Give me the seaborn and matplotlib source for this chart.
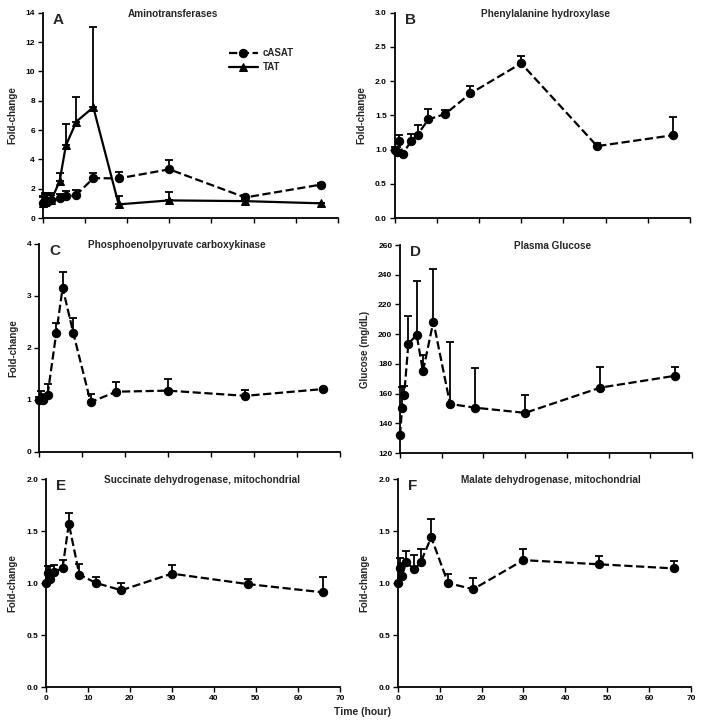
import numpy as np
import pandas as pd
import matplotlib
matplotlib.use("Agg")
import matplotlib.pyplot as plt
import seaborn as sns
from matplotlib.ticker import FormatStrFormatter

# ---- data ----
time_h = [0, 0.5, 1, 2, 4, 5.5, 8, 12, 18, 30, 48, 66]

casat = [1.0, 1.2, 1.1, 1.2, 1.33, 1.47, 1.58, 2.72, 2.7, 3.32, 1.4, 2.28]
casat_err = [0.4, 0.45, 0.5, 0.4, 0.3, 0.35, 0.35, 0.35, 0.45, 0.65, 0.15, 0.1]
tat = [1.0, 1.1, 1.2, 1.2, 2.5, 4.95, 6.58, 7.55, 0.93, 1.2, 1.15, 1.0]
tat_err = [0.5, 0.6, 0.5, 0.5, 0.6, 1.45, 1.65, 5.5, 0.55, 0.6, 0.1, 0.05]

pah = [1.0, 0.96, 1.13, 0.94, 1.13, 1.22, 1.44, 1.52, 1.82, 2.26, 1.05, 1.21]
pah_err = [0.04, 0.08, 0.09, 0.03, 0.1, 0.14, 0.16, 0.06, 0.11, 0.11, 0.04, 0.26]

pepck = [1.0, 1.02, 1.0, 1.1, 2.28, 3.16, 2.28, 0.96, 1.16, 1.18, 1.08, 1.21]
pepck_err = [0.05, 0.15, 0.12, 0.2, 0.2, 0.31, 0.29, 0.16, 0.18, 0.22, 0.11, 0.03]

glucose = [132, 150.5, 159, 193.5, 199.5, 175, 208.5, 153, 150.5, 147, 164, 172]
glucose_err = [0, 14, 6, 18.6, 36, 10.7, 35.2, 41.5, 27, 12.3, 13.9, 5.8]

sdh = [1.0, 1.10, 1.04, 1.11, 1.14, 1.57, 1.08, 1.0, 0.93, 1.09, 0.99, 0.91]
sdh_err = [0.0, 0.06, 0.12, 0.06, 0.08, 0.1, 0.1, 0.06, 0.07, 0.08, 0.05, 0.15]

mdh = [1.0, 1.14, 1.07, 1.2, 1.13, 1.2, 1.44, 1.0, 0.94, 1.22, 1.18, 1.14]
mdh_err = [0.0, 0.1, 0.12, 0.11, 0.14, 0.13, 0.18, 0.09, 0.11, 0.11, 0.08, 0.07]

titles = ["Aminotransferases", "Phenylalanine hydroxylase",
          "Phosphoenolpyruvate carboxykinase", "Plasma Glucose",
          "Succinate dehydrogenase, mitochondrial", "Malate dehydrogenase, mitochondrial"]
letters = ["A", "B", "C", "D", "E", "F"]

sns.set_style("ticks")
plt.rcParams['font.family'] = ['Liberation Sans', 'DejaVu Sans']
plt.rcParams['font.weight'] = 'bold'

W, H = 704, 728
fig = plt.figure(figsize=(W / 100, H / 100), dpi=100)

def make_ax(l, r, t, b):
    return fig.add_axes([l / W, 1 - b / H, (r - l) / W, (b - t) / H])

boxes = [(42.7, 338, 12.7, 218), (394.5, 690, 12.7, 218),
         (39, 340, 244, 452), (400, 692, 245, 453),
         (45.7, 340, 479, 687), (397.7, 691, 479, 687)]
title_x = [0.44, 0.51, 0.457, 0.524, 0.53, 0.523]

def draw(ax, y, err, marker="o", ls="--", label=None, ms=6):
    df = pd.DataFrame({"t": time_h, "v": y})
    sns.lineplot(data=df, x="t", y="v", ax=ax, color="black", lw=1.6,
                 marker=marker, markersize=ms, markeredgecolor="black",
                 linestyle=ls, sort=False, estimator=None, label=label,
                 clip_on=False, legend=False)
    ax.errorbar(time_h, y, yerr=[np.zeros(len(err)), err], fmt="none",
                ecolor="black", elinewidth=1.3, capsize=3, capthick=1.3,
                clip_on=False)
    ax.set_xlabel("")

ylims = [(0, 14, 2), (0, 3, 0.5), (0, 4, 1), (120, 260, 20), (0, 2, 0.5), (0, 2, 0.5)]
axes = []
for i, bx in enumerate(boxes):
    ax = make_ax(*bx)
    axes.append(ax)

draw(axes[0], casat, casat_err, marker="o", ls="--", label="cASAT")
draw(axes[0], tat, tat_err, marker="^", ls="-", label="TAT")
axes[0].legend(loc="upper left", bbox_to_anchor=(0.6, 0.87), frameon=False,
               fontsize=7, handlelength=3.0, labelspacing=0.4, handletextpad=0.5)
draw(axes[1], pah, pah_err)
draw(axes[2], pepck, pepck_err)
draw(axes[3], glucose, glucose_err)
draw(axes[4], sdh, sdh_err)
draw(axes[5], mdh, mdh_err)

for i, ax in enumerate(axes):
    lo, hi, st = ylims[i]
    ax.set_xlim(0, 70)
    ax.set_ylim(lo, hi)
    ax.set_yticks(np.arange(lo, hi + st / 2, st))
    ax.set_xticks(np.arange(0, 71, 10))
    for s in ["top", "right"]:
        ax.spines[s].set_visible(False)
    for s in ["left", "bottom"]:
        ax.spines[s].set_linewidth(1.3)
        ax.spines[s].set_color("black")
    ax.tick_params(axis="both", direction="out", length=3.5, width=1,
                   labelsize=6, colors="black", pad=2)
    if i < 4:
        ax.tick_params(axis="x", labelbottom=False)
    ax.set_xlabel("")
    ax.set_ylabel("Glucose (mg/dL)" if i == 3 else "Fold-change",
                  fontsize=7, fontweight="bold", labelpad=6)
    ax.text(0.035, 1.0, letters[i], transform=ax.transAxes, fontsize=11,
            fontweight="bold", va="top", ha="left")
    ax.text(title_x[i], 0.995, titles[i], transform=ax.transAxes, fontsize=7.2,
            fontweight="bold", va="center", ha="center")

for i in (1, 4, 5):
    axes[i].yaxis.set_major_formatter(FormatStrFormatter("%.1f"))

fig.text(363 / W, 1 - 712 / H, "Time (hour)", fontsize=7.5, fontweight="bold",
         ha="center", va="center")

fig.savefig("out.png", dpi=100)
